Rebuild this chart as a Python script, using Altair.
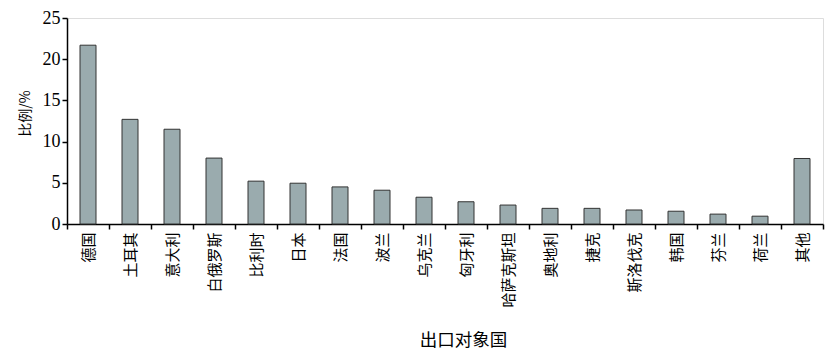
import altair as alt
import pandas as pd

countries = ["德国", "土耳其", "意大利", "白俄罗斯", "比利时", "日本", "法国", "波兰", "乌克兰",
             "匈牙利", "哈萨克斯坦", "奥地利", "捷克", "斯洛伐克", "韩国", "芬兰", "荷兰", "其他"]
shares = [21.7, 12.7, 11.5, 8.0, 5.2, 4.95, 4.5, 4.1, 3.25,
          2.7, 2.3, 1.9, 1.9, 1.7, 1.55, 1.2, 0.95, 7.95]

df = pd.DataFrame({"country": countries, "share": shares})

CJK = "Noto Sans CJK SC"
SERIF = "Liberation Serif"

chart = alt.Chart(df).mark_bar(
    size=16, fill="#9aabae", stroke="#333333", strokeWidth=1
).encode(
    x=alt.X(
        "country:N", sort=countries,
        scale=alt.Scale(paddingInner=0, paddingOuter=0),
        axis=alt.Axis(
            title="出口对象国", labelAngle=-90, labelFont=CJK, labelFontSize=15,
            labelColor="#000000", labelPadding=3,
            tickBand="extent", tickSize=5, tickColor="#000000", tickWidth=1.5,
            domainColor="#000000", domainWidth=1.5,
            titleFont=CJK, titleFontSize=17.5, titleFontWeight="normal", titleColor="#000000",
            titleX=396, titleY=116, titleAlign="center", titleBaseline="middle",
        ),
    ),
    y=alt.Y(
        "share:Q",
        scale=alt.Scale(domain=[0, 25], nice=False),
        axis=alt.Axis(
            title="比例/%", values=[0, 5, 10, 15, 20, 25], grid=False,
            labelFont=SERIF, labelFontSize=18, labelColor="#000000", labelPadding=2,
            tickSize=5, tickColor="#000000", tickWidth=1.5,
            domainColor="#000000", domainWidth=1.5,
            titleFont=CJK, titleFontSize=14, titleFontWeight="normal", titleColor="#000000",
            titleX=-42, titleY=95, titleAlign="center", titleBaseline="middle",
        ),
    ),
).properties(
    width=756, height=206,
    autosize=alt.AutoSizeParams(type="none"),
    padding={"left": 67, "top": 18, "right": 10, "bottom": 138},
).configure_view(stroke=None).configure(background="#ffffff")

chart.save("out.html", embed_options={"renderer": "svg", "actions": False})
